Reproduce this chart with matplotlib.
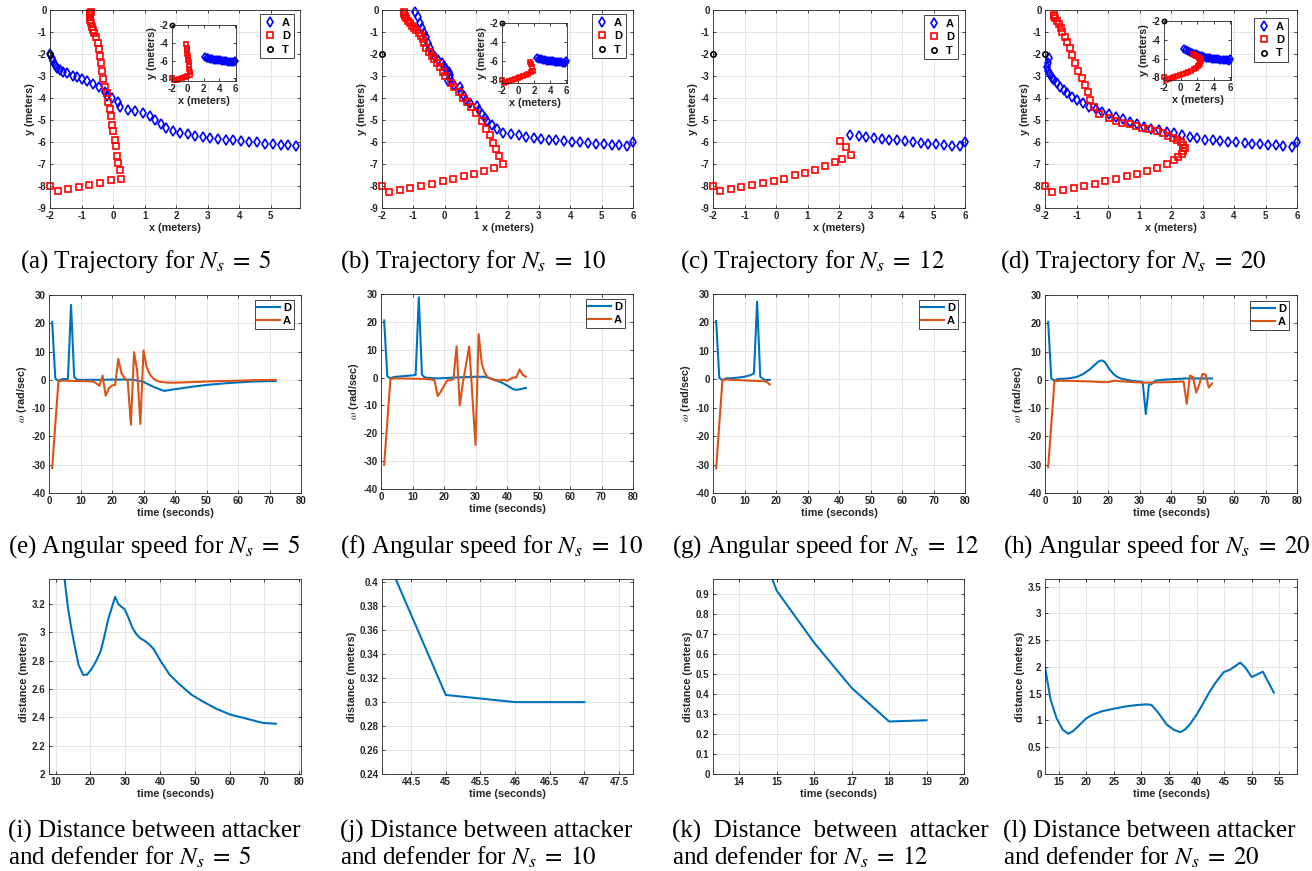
import numpy as np
import matplotlib
matplotlib.use("Agg")
import matplotlib.pyplot as plt
from matplotlib.ticker import FormatStrFormatter

plt.rcParams['font.family'] = ['Liberation Sans', 'DejaVu Sans']
plt.rcParams['mathtext.fontset'] = 'stix'

W, H = 1312, 871

# ---- trajectories (x, y in meters) ----
target_x = [-2.0]
target_y = [-2.0]

# Ns = 5
a5_x = [6.0, 5.80, 5.56, 5.33, 5.06, 4.82, 4.58, 4.32, 4.05, 3.81, 3.58, 3.34, 3.07, 2.86, 2.60, 2.39,
        2.12, 1.89, 1.68, 1.51, 1.33, 1.17, 0.96, 0.70, 0.48, 0.22, 0.17, -0.04, -0.20, -0.26, -0.44,
        -0.65, -0.84, -1.00, -1.13, -1.28, -1.47, -1.58, -1.68, -1.77, -1.84, -1.89, -1.95, -2.0]
a5_y = [-6.0, -6.16, -6.14, -6.13, -6.10, -6.07, -6.02, -6.00, -5.96, -5.93, -5.90, -5.87, -5.82, -5.78,
        -5.72, -5.64, -5.57, -5.49, -5.37, -5.19, -4.99, -4.84, -4.69, -4.58, -4.54, -4.39, -4.16, -4.00,
        -3.93, -3.71, -3.52, -3.37, -3.22, -3.15, -3.06, -3.00, -2.87, -2.80, -2.72, -2.62, -2.50, -2.34,
        -2.19, -2.0]
d5_x = [-2.0, -1.76, -1.42, -1.08, -0.75, -0.41, -0.06, 0.25, 0.22, 0.17, 0.14, 0.09, 0.06, 0.01, -0.04,
        -0.08, -0.10, -0.17, -0.20, -0.26, -0.31, -0.36, -0.39, -0.41, -0.45, -0.49, -0.54, -0.59, -0.64,
        -0.67, -0.70, -0.72, -0.73, -0.73, -0.72, -0.69]
d5_y = [-7.99, -8.24, -8.14, -8.05, -7.94, -7.85, -7.73, -7.66, -7.26, -6.96, -6.63, -6.20, -5.90, -5.52,
        -5.22, -4.84, -4.51, -4.16, -3.78, -3.48, -3.13, -2.77, -2.42, -2.09, -1.77, -1.48, -1.21, -1.06,
        -0.91, -0.76, -0.61, -0.45, -0.33, -0.23, -0.15, -0.11]

# Ns = 10
a10_x = [6.0, 5.82, 5.55, 5.32, 5.06, 4.82, 4.55, 4.32, 4.05, 3.80, 3.55, 3.32, 3.07, 2.84, 2.60, 2.36,
         2.10, 1.86, 1.67, 1.51, 1.35, 1.27, 1.19, 1.10, 1.03, 0.80, 0.69, 0.60, 0.53, 0.48, 0.29, 0.10,
         0.18, 0.16, 0.13, 0.04, -0.03, -0.10, -0.22, -0.30, -0.40, -0.46, -0.54, -0.60, -0.67, -0.72,
         -0.80, -0.86, -0.94]
a10_y = [-6.0, -6.18, -6.15, -6.13, -6.10, -6.07, -6.05, -6.00, -5.98, -5.95, -5.92, -5.90, -5.85, -5.80,
         -5.77, -5.70, -5.65, -5.57, -5.43, -5.24, -5.04, -4.89, -4.73, -4.55, -4.37, -4.25, -4.10, -3.90,
         -3.72, -3.52, -3.41, -3.22, -3.07, -2.96, -2.81, -2.66, -2.55, -2.40, -2.28, -2.12, -1.97, -1.75,
         -1.52, -1.24, -1.06, -0.83, -0.58, -0.33, -0.08]
d10_x = [-2.0, -1.77, -1.44, -1.10, -0.76, -0.40, -0.06, 0.27, 0.61, 0.93, 1.24, 1.56, 1.86, 1.72, 1.64,
         1.53, 1.44, 1.30, 1.19, 1.00, 0.85, 0.71, 0.57, 0.45, 0.31, 0.20, 0.02, -0.05, -0.14, -0.24, -0.33,
         -0.40, -0.49, -0.59, -0.65, -0.69, -0.76, -0.83, -0.91, -0.99, -1.04, -1.10, -1.18, -1.22, -1.26,
         -1.29, -1.29]
d10_y = [-8.01, -8.27, -8.19, -8.07, -7.98, -7.89, -7.78, -7.69, -7.56, -7.44, -7.31, -7.16, -6.98, -6.65,
         -6.34, -6.04, -5.69, -5.39, -5.04, -4.70, -4.43, -4.17, -3.98, -3.75, -3.52, -3.34, -3.00, -2.81,
         -2.61, -2.43, -2.25, -2.09, -1.90, -1.71, -1.52, -1.34, -1.18, -1.06, -0.91, -0.83, -0.73, -0.61,
         -0.49, -0.38, -0.27, -0.18, -0.09]

# Ns = 12
a12_x = [6.0, 5.83, 5.60, 5.33, 5.09, 4.83, 4.59, 4.34, 4.09, 3.84, 3.60, 3.35, 3.10, 2.86, 2.62, 2.36]
a12_y = [-5.98, -6.17, -6.16, -6.14, -6.11, -6.08, -6.04, -6.00, -5.96, -5.93, -5.90, -5.87, -5.82, -5.78,
         -5.72, -5.67]
d12_x = [-2.0, -1.77, -1.44, -1.10, -0.75, -0.41, -0.07, 0.26, 0.60, 0.92, 1.24, 1.56, 1.88, 2.09, 2.38,
         2.22, 2.04]
d12_y = [-7.99, -8.25, -8.14, -8.05, -7.94, -7.85, -7.76, -7.66, -7.52, -7.40, -7.26, -7.08, -6.93, -6.78,
         -6.58, -6.25, -5.95]

# Ns = 20
a20_x = [6.0, 5.83, 5.57, 5.33, 5.08, 4.83, 4.58, 4.34, 4.07, 3.81, 3.57, 3.32, 3.09, 2.84, 2.59, 2.34,
         2.10, 1.86, 1.62, 1.38, 1.15, 0.92, 0.69, 0.47, 0.24, 0.03, -0.20, -0.38, -0.59, -0.78, -0.97,
         -1.13, -1.29, -1.41, -1.52, -1.63, -1.71, -1.79, -1.85, -1.90, -1.93, -1.90, -1.87]
a20_y = [-6.02, -6.22, -6.18, -6.15, -6.12, -6.10, -6.07, -6.04, -6.02, -5.99, -5.96, -5.92, -5.89, -5.84,
         -5.77, -5.69, -5.61, -5.54, -5.46, -5.39, -5.31, -5.20, -5.08, -4.96, -4.86, -4.73, -4.63, -4.52,
         -4.40, -4.22, -4.10, -3.95, -3.79, -3.64, -3.49, -3.34, -3.19, -3.07, -2.91, -2.76, -2.58, -2.43,
         -2.20]
d20_x = [-2.0, -1.77, -1.42, -1.09, -0.75, -0.41, -0.08, 0.26, 0.60, 0.93, 1.25, 1.57, 1.86, 2.10, 2.23,
         2.34, 2.39, 2.43, 2.37, 2.32, 2.20, 2.07, 1.91, 1.75, 1.54, 1.31, 1.08, 0.90, 0.69, 0.45, 0.24,
         0.02, -0.27, -0.45, -0.56, -0.65, -0.73, -0.84, -0.94, -1.04, -1.13, -1.20, -1.29, -1.36, -1.45,
         -1.50, -1.55, -1.63, -1.68, -1.71, -1.73]
d20_y = [-8.01, -8.27, -8.19, -8.09, -7.98, -7.89, -7.78, -7.68, -7.56, -7.44, -7.31, -7.16, -6.98, -6.83,
         -6.68, -6.56, -6.40, -6.27, -6.12, -5.99, -5.89, -5.80, -5.72, -5.61, -5.51, -5.43, -5.36, -5.27,
         -5.19, -5.13, -5.04, -4.93, -4.75, -4.40, -4.10, -3.75, -3.41, -3.07, -2.76, -2.40, -2.05, -1.71,
         -1.44, -1.21, -1.02, -0.80, -0.64, -0.49, -0.38, -0.27, -0.23]

# insets show the early part of each run
inset_a_min_x = {5: 2.0, 10: 2.3, 20: 0.4}
inset_d_count = {5: 18, 10: 16, 20: 25}

# ---- angular speed (rad/sec) ----
w5_d_t = [1, 2, 3, 4, 5, 6, 7, 8, 9, 12, 15, 20, 25, 27, 30, 33, 36.5, 40, 45, 50, 55, 60, 65, 72]
w5_d = [20.5, 0.5, -0.3, 0.2, 0.3, 0.3, 26.5, 1.0, 0.0, 0.0, 0.0, 0.1, 0.1, 0.0, -0.7, -2.4, -3.9, -3.3,
        -2.5, -1.8, -1.3, -0.9, -0.6, -0.4]
w5_a_t = [1, 3, 4, 6, 8, 10, 12, 14, 15, 16, 17, 18, 19, 20, 21, 22, 23, 24, 25, 26, 27, 28, 29, 30, 31,
          32, 33, 34, 35, 36, 38, 40, 45, 50, 55, 60, 65, 72]
w5_a = [-31.2, -0.5, -0.3, -0.3, -0.4, -0.4, -0.5, -0.6, -1.2, -2.1, 1.5, -5.6, -3.0, -2.0, -1.8, 7.4, 2.4,
        0.6, -0.3, -15.9, 9.8, 3.2, -15.6, 10.4, 4.5, 2.0, 0.6, -0.2, -0.6, -0.8, -1.0, -1.0, -0.8, -0.6,
        -0.4, -0.3, -0.1, 0.0]

w10_d_t = [1, 2, 3, 4, 6, 8, 10, 11, 12, 13, 14, 16, 18, 20, 25, 30, 33, 34, 36, 38, 40, 42, 43, 44, 46]
w10_d = [20.5, 0.5, -0.3, 0.2, 0.4, 0.6, 0.8, 1.0, 28.8, 1.0, 0.0, -0.2, -0.3, -0.2, 0.1, 0.3, 0.3, 0.0,
         -0.8, -1.6, -2.8, -4.2, -4.4, -4.2, -3.7]
w10_a_t = [1, 3, 4, 6, 10, 14, 16, 17, 18, 19, 20, 21, 22, 23, 24, 25, 26, 28, 30, 31, 32, 33, 34, 35, 36,
           38, 39, 40, 41, 42, 43, 44, 45, 46]
w10_a = [-31.4, -0.5, -0.3, -0.3, -0.4, -0.5, -0.7, -1.0, -6.6, -5.0, -3.0, -1.0, -1.0, -0.5, 11.2, -10.0,
         -1.8, 11.2, -24.2, 15.6, 4.9, 1.5, 0.0, -0.5, -0.9, -1.0, -0.8, -1.2, -0.5, 0.0, 0.1, 2.9, 1.0, 0.3]

w12_d_t = [1, 2, 3, 4, 6, 8, 10, 12, 13, 14, 15, 16, 17, 18]
w12_d = [20.5, 0.5, -0.3, 0.3, 0.4, 0.6, 0.9, 1.5, 2.1, 27.3, 0.9, 0.0, -0.3, -0.2]
w12_a_t = [1, 3, 4, 6, 8, 10, 12, 14, 16, 17, 18]
w12_a = [-31.3, -0.3, -0.1, -0.2, -0.3, -0.4, -0.5, -0.6, -0.7, -0.8, -1.8]

w20_d_t = [1, 2, 3, 4, 6, 8, 10, 12, 14, 16, 17, 18, 19, 20, 21, 22, 23, 24, 26, 28, 31, 32, 33, 34, 35,
           37, 40, 45, 53]
w20_d = [20.5, 0.5, -0.3, 0.3, 0.4, 0.6, 1.0, 2.0, 3.5, 5.5, 6.5, 6.9, 6.3, 4.5, 3.0, 1.8, 1.0, 0.5, 0.0,
         -0.4, -0.7, -12.1, -1.8, -1.3, -0.3, 0.0, 0.2, 0.5, 0.5]
w20_a_t = [1, 3, 5, 10, 15, 18, 20, 22, 24, 28, 32, 35, 40, 44, 45, 46, 47, 48, 49, 50, 51, 52, 53]
w20_a = [-30.9, -0.5, -0.3, -0.4, -0.6, -0.8, -0.8, -0.3, -0.5, -0.8, -1.0, -0.9, -0.8, -0.6, -8.5, 1.5,
         1.0, -4.5, -1.5, 2.1, 1.8, -2.7, -1.3]

# ---- distance between attacker and defender (meters) ----
dist5_t = [12, 13.5, 14.5, 15.5, 16.6, 17.9, 19.0, 20.3, 21.7, 23, 23.9, 25.1, 26.1, 27.1, 28, 28.9, 29.9,
           30.8, 32.1, 33.1, 34.2, 35.6, 37.1, 38.2, 40.1, 42.8, 45.7, 49, 52.4, 56.2, 60.1, 64.9, 69.6, 73.3]
dist5 = [3.5, 3.18, 3.03, 2.90, 2.77, 2.70, 2.70, 2.74, 2.80, 2.87, 2.96, 3.09, 3.17, 3.25, 3.20, 3.18, 3.16,
         3.11, 3.03, 2.99, 2.96, 2.94, 2.91, 2.88, 2.80, 2.70, 2.63, 2.56, 2.51, 2.46, 2.42, 2.39, 2.36, 2.355]
dist10_t = [44, 45, 46, 47]
dist10 = [0.44, 0.306, 0.300, 0.300]
dist12_t = [14, 15, 16, 17, 18, 19]
dist12 = [1.40, 0.915, 0.655, 0.43, 0.262, 0.268]
dist20_t = [12.5, 13.5, 14.6, 15.7, 16.7, 17.6, 18.8, 20, 21.2, 22.8, 24.6, 27, 29.4, 30.9, 31.8, 33, 34.6,
            35.8, 37, 37.9, 38.8, 40, 41.2, 42.2, 43.4, 44.9, 46.1, 47.9, 48.8, 50, 52, 54]
dist20 = [2.0, 1.39, 1.04, 0.83, 0.75, 0.80, 0.92, 1.04, 1.11, 1.17, 1.21, 1.26, 1.29, 1.30, 1.29, 1.15, 0.92,
          0.83, 0.78, 0.83, 0.93, 1.11, 1.32, 1.51, 1.70, 1.90, 1.95, 2.08, 1.99, 1.81, 1.91, 1.52]

ns_list = [5, 10, 12, 20]
captions_top = [r'(%s) Trajectory for $N_s\;=\;%d$' % (c, n) for c, n in zip('abcd', ns_list)]
captions_mid = [r'(%s) Angular speed for $N_s\;=\;%d$' % (c, n) for c, n in zip('efgh', ns_list)]
captions_bot = [(r'(i) Distance between attacker', r'and defender for $N_s\;=\;5$'),
                (r'(j) Distance between attacker', r'and defender for $N_s\;=\;10$'),
                (r'(k)  Distance  between  attacker', r'and defender for $N_s\;=\;12$'),
                (r'(l) Distance between attacker', r'and defender for $N_s\;=\;20$')]

BLUE = '#0072BD'
ORANGE = '#D95319'
DARK = '#262626'

fig = plt.figure(figsize=(W / 100, H / 100), dpi=100)


def px_axes(l, t, r, b):
    return fig.add_axes([l / W, 1 - b / H, (r - l) / W, (b - t) / H])


def style(ax, size=7):
    ax.grid(True, color='#e1e1e1', lw=0.6)
    ax.set_axisbelow(True)
    for s in ax.spines.values():
        s.set_color(DARK)
        s.set_linewidth(0.6)
    ax.tick_params(direction='in', length=2.5, width=0.6, top=True, right=True,
                   colors=DARK, labelsize=size, pad=2.5)
    ax.xaxis.set_major_formatter(FormatStrFormatter('%g'))
    ax.yaxis.set_major_formatter(FormatStrFormatter('%g'))


def draw_traj(ax, axx, ayy, dxx, dyy, xlim, small=False):
    k = 0.8 if small else 1.0

    def keep(xs, ys):
        xs, ys = np.asarray(xs), np.asarray(ys)
        m = (xs >= xlim[0] - 1e-9) & (xs <= xlim[1] + 1e-9)
        return xs[m], ys[m]

    ax.plot(*keep(axx, ayy), 'd', color='blue', mfc='none', ms=5.5 * k, mew=1.2, label='A', clip_on=False)
    ax.plot(*keep(dxx, dyy), 's', color='red', mfc='none', ms=3.8 * k, mew=1.2, label='D', clip_on=False)
    ax.plot(target_x, target_y, 'o', color='black', mfc='none', ms=3.8 * k, mew=1.2, label='T', clip_on=False)


def labels(ax, xl, yl, size=7.8):
    ax.set_xlabel(xl, fontsize=size, color=DARK, labelpad=1, fontweight='bold')
    ax.set_ylabel(yl, fontsize=size, color=DARK, labelpad=2, fontweight='bold')


def legend(ax, anchor, lines=False):
    kw = dict(loc='upper right', bbox_to_anchor=anchor, borderaxespad=0, fancybox=False,
              framealpha=1, edgecolor=DARK, prop={'size': 8, 'weight': 'bold'})
    if lines:
        kw.update(handlelength=2.0, handletextpad=0.3, borderpad=0.25, labelspacing=0.3)
    else:
        kw.update(handlelength=1.0, handletextpad=0.6, borderpad=0.35, labelspacing=0.3)
    leg = ax.legend(**kw)
    leg.get_frame().set_linewidth(0.6)


# ---------- row 1: trajectories ----------
traj = [(5, a5_x, a5_y, d5_x, d5_y, (50, 10, 300, 208), (-2, 5.93), (0.976, 0.98), (172, 25, 236, 81)),
        (10, a10_x, a10_y, d10_x, d10_y, (382, 10, 633, 208), (-2, 6), (0.972, 0.98), (502, 23, 567, 83)),
        (12, a12_x, a12_y, d12_x, d12_y, (713, 10, 965, 208), (-2, 6), (0.972, 0.975), None),
        (20, a20_x, a20_y, d20_x, d20_y, (1045, 10, 1297, 208), (-2, 6), (0.964, 0.96), (1164, 21, 1231, 80))]

for ns, axx, ayy, dxx, dyy, box, xl, anc, ibox in traj:
    ax = px_axes(*box)
    style(ax)
    draw_traj(ax, axx, ayy, dxx, dyy, xl)
    ax.set_xlim(*xl)
    ax.set_ylim(-9 if ns != 20 else -8.98, 0)
    ax.set_xticks(np.arange(-2, int(xl[1]) + 1, 1))
    ax.set_yticks(np.arange(-9, 1, 1))
    labels(ax, 'x (meters)', 'y (meters)')
    legend(ax, anc)
    if ibox is not None:
        ia = px_axes(*ibox)
        style(ia)
        sel = np.array(axx) >= inset_a_min_x[ns]
        n = inset_d_count[ns]
        draw_traj(ia, np.array(axx)[sel], np.array(ayy)[sel], dxx[:n], dyy[:n], (-2, 6.1), small=True)
        ia.set_xlim(-2, 6.1)
        ia.set_ylim(-8.3, -1.95)
        ia.set_xticks([-2, 0, 2, 4, 6])
        ia.set_yticks([-8, -6, -4, -2])
        ia.grid(False)
        labels(ia, 'x (meters)', 'y (meters)')

# ---------- row 2: angular speed ----------
omega = [(w5_d_t, w5_d, w5_a_t, w5_a, (49, 295, 301, 493), (0.972, 0.975)),
         (w10_d_t, w10_d, w10_a_t, w10_a, (381, 294, 633, 489), (0.968, 0.974)),
         (w12_d_t, w12_d, w12_a_t, w12_a, (713, 294, 965, 493), (0.972, 0.97)),
         (w20_d_t, w20_d, w20_a_t, w20_a, (1045, 295, 1297, 493), (0.968, 0.97))]
for dt_, dv, at_, av, box, anc in omega:
    ax = px_axes(*box)
    style(ax)
    ax.plot(dt_, dv, color=BLUE, lw=1.5, label='D')
    ax.plot(at_, av, color=ORANGE, lw=1.5, label='A')
    ax.set_xlim(0, 80)
    ax.set_ylim(-40, 30)
    ax.set_xticks(np.arange(0, 81, 10))
    ax.set_yticks(np.arange(-40, 31, 10))
    labels(ax, 'time (seconds)', r'$\omega$ (rad/sec)')
    legend(ax, anc, lines=True)

# ---------- row 3: distance ----------
dist = [(dist5_t, dist5, (49, 579, 301, 774), (8.1, 80.5), np.arange(10, 81, 10), (2, 3.376), np.arange(2, 3.25, 0.2)),
        (dist10_t, dist10, (382, 579, 633, 774), (44.08, 47.7), np.arange(44.5, 47.6, 0.5), (0.24, 0.4028), np.arange(0.24, 0.405, 0.02)),
        (dist12_t, dist12, (713, 579, 964, 774), (13.3, 20), np.arange(14, 21, 1), (0, 0.973), np.arange(0, 0.95, 0.1)),
        (dist20_t, dist20, (1045, 579, 1297, 774), (12.5, 58.2), np.arange(15, 56, 5), (0, 3.64), np.arange(0, 3.6, 0.5))]
for t_, d_, box, xl, xt, yl, yt in dist:
    ax = px_axes(*box)
    style(ax)
    ax.plot(t_, d_, color=BLUE, lw=1.5)
    ax.set_xlim(*xl)
    ax.set_ylim(*yl)
    ax.set_xticks(xt)
    ax.set_yticks(np.round(yt, 2))
    labels(ax, 'time (seconds)', 'distance (meters)')

# bold tick labels like MATLAB
for a in fig.axes:
    for lbl in a.get_xticklabels() + a.get_yticklabels():
        lbl.set_fontweight('bold')

# ---------- captions ----------
cap_kw = dict(fontsize=18, family='Liberation Serif', color='black', va='center', ha='left')
for x0, s in zip([20, 340, 680, 1000], captions_top):
    fig.text(x0 / W, 1 - 262 / H, s, **cap_kw)
for x0, s in zip([8, 340, 672, 1003], captions_mid):
    fig.text(x0 / W, 1 - 547 / H, s, **cap_kw)
for x0, (s1, s2) in zip([8, 340, 672, 1003], captions_bot):
    fig.text(x0 / W, 1 - 831 / H, s1, **cap_kw)
    fig.text(x0 / W, 1 - 857 / H, s2, **cap_kw)

fig.savefig('out.png', dpi=100)
